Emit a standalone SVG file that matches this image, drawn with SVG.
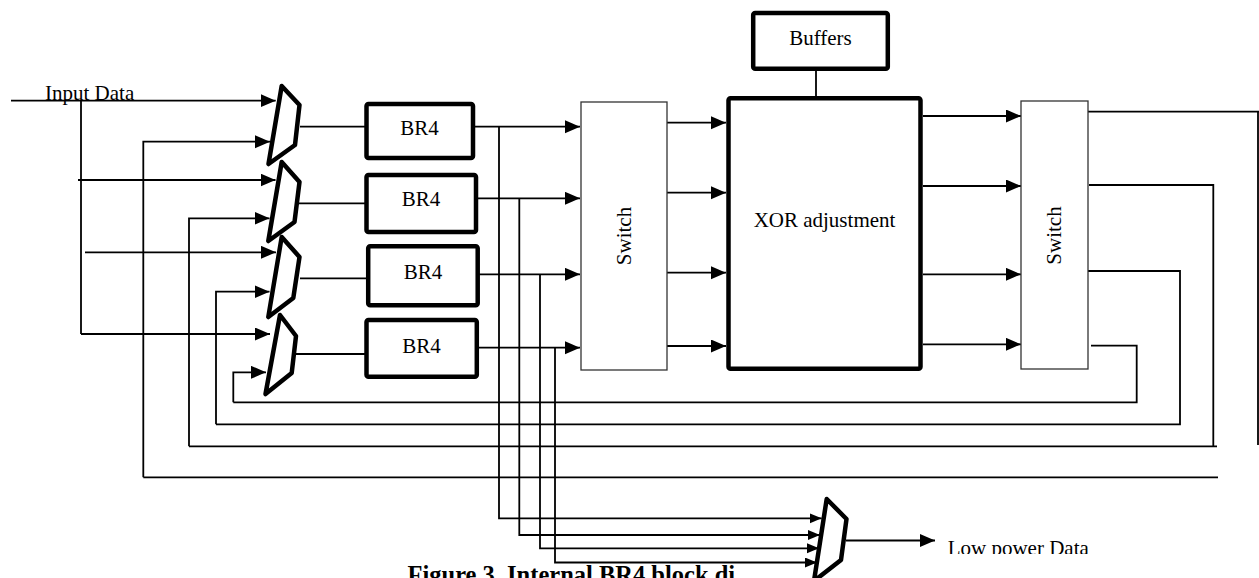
<svg xmlns="http://www.w3.org/2000/svg" width="1259" height="578" viewBox="0 0 1259 578">
<style>
.t{font-family:"Liberation Serif","Times New Roman",serif;font-size:21px;fill:#000}
.cap{font-family:"Liberation Serif","Times New Roman",serif;font-size:24.5px;font-weight:bold;fill:#000}
.blk{fill:#fff;stroke:#000;stroke-width:4.5;stroke-linejoin:round}
.sw{fill:#fff;stroke:#333;stroke-width:1.3}
.mux{fill:#fff;stroke:#000;stroke-width:4.5;stroke-linejoin:round}
.c{fill:none;stroke:#000;stroke-width:1.8}
.a{marker-end:url(#ah)}
.s{marker-end:url(#as)}
</style>
<defs>
<marker id="ah" markerUnits="userSpaceOnUse" markerWidth="16" markerHeight="14" refX="15" refY="6.5" orient="auto"><path d="M0,0 L15,6.5 L0,13 z" fill="#000"/></marker>
<marker id="as" markerUnits="userSpaceOnUse" markerWidth="14" markerHeight="12" refX="12" refY="5" orient="auto"><path d="M0,0 L12,5 L0,10 z" fill="#000"/></marker>
<clipPath id="lpclip"><rect x="900" y="520" width="359" height="34"/></clipPath>
</defs>
<rect width="1259" height="578" fill="#fff"/>

<g id="connectors">
<path class="c a" d="M11,100.7 H275.7"/>
<path class="c" d="M81,100.7 V334"/>
<path class="c a" d="M81,334 H270"/>
<path class="c a" d="M78,180 H275.5"/>
<path class="c a" d="M85,252.3 H276"/>
<path class="c a" d="M143.3,477.3 V141.7 H270"/>
<path class="c a" d="M189,446.3 V218.3 H269.5"/>
<path class="c a" d="M216,424.3 V291.7 H269.5"/>
<path class="c a" d="M233.3,402.3 V372.3 H266"/>
<path class="c" d="M233.3,402.3 H1136.7 V345.7 H1091"/>
<path class="c" d="M216,424.3 H1180 V271 H1088"/>
<path class="c" d="M189,446.3 H1217"/>
<path class="c" d="M1213.3,446.3 V185 H1089"/>
<path class="c" d="M143.3,477.3 H1218"/>
<path class="c" d="M1088,111.7 H1259"/>
<path class="c" d="M1258,111.7 V445"/>
<path class="c" d="M300,126.7 H366"/>
<path class="c" d="M299,203.3 H366"/>
<path class="c" d="M300,278.3 H368"/>
<path class="c" d="M296,354 H366"/>
<path class="c a" d="M473,126.7 H580"/>
<path class="c a" d="M476,198.3 H580"/>
<path class="c a" d="M478,274.3 H580"/>
<path class="c a" d="M477,347.7 H580"/>
<path class="c s" d="M499,126.7 V518.3 H821.7"/>
<path class="c s" d="M519.3,198.3 V535 H820"/>
<path class="c s" d="M540,274.3 V548.3 H819"/>
<path class="c s" d="M555,347.7 V562.5 H817"/>
<path class="c a" d="M667,122.7 H726"/>
<path class="c a" d="M667,192.7 H726"/>
<path class="c a" d="M667,272.7 H726"/>
<path class="c a" d="M667,346 H726"/>
<path class="c" d="M816,71 V96"/>
<path class="c a" d="M923,116 H1021"/>
<path class="c a" d="M923,186 H1021"/>
<path class="c a" d="M923,274.3 H1021"/>
<path class="c a" d="M923,344.3 H1021"/>
<path class="c a" d="M846,540.5 H935"/>
</g>

<g id="mux1"><polygon class="mux" points="281.7,86 299.5,105 295,145 268.5,164"/></g>
<g id="mux2"><polygon class="mux" points="281.7,162 299.5,182 294.5,222 268.3,241"/></g>
<g id="mux3"><polygon class="mux" points="281.7,237 299.5,257 293.3,298 268.3,317"/></g>
<g id="mux4"><polygon class="mux" points="280,315 296,336 291.7,373 265.5,394"/></g>
<g id="mux-out"><polygon class="mux" points="826.7,499 846.5,519 841,560 814,581"/></g>

<g id="br4-1"><rect class="blk" x="366.5" y="104" width="106.5" height="54" rx="2"/><text class="t" x="419.5" y="135" text-anchor="middle">BR4</text></g>
<g id="br4-2"><rect class="blk" x="366.5" y="175" width="109.5" height="57" rx="2"/><text class="t" x="421" y="206" text-anchor="middle">BR4</text></g>
<g id="br4-3"><rect class="blk" x="368.2" y="246.2" width="109.5" height="59" rx="2"/><text class="t" x="423" y="279" text-anchor="middle">BR4</text></g>
<g id="br4-4"><rect class="blk" x="366.5" y="320" width="110.3" height="56.8" rx="2"/><text class="t" x="421.5" y="352.5" text-anchor="middle">BR4</text></g>

<g id="switch1"><rect class="sw" x="581" y="102" width="86" height="268"/><text class="t" transform="translate(631,236) rotate(-90)" text-anchor="middle">Switch</text></g>
<g id="xor"><rect class="blk" x="728.5" y="98.2" width="192" height="270.5" rx="2"/><text class="t" x="824.5" y="226.7" text-anchor="middle">XOR adjustment</text></g>
<g id="buffers"><rect class="blk" x="753.2" y="12.9" width="134.6" height="55.9" rx="2"/><text class="t" x="820.5" y="45" text-anchor="middle">Buffers</text></g>
<g id="switch2"><rect class="sw" x="1021" y="101" width="67" height="268"/><text class="t" transform="translate(1061,235.5) rotate(-90)" text-anchor="middle">Switch</text></g>

<g id="labels">
<text class="t" x="45" y="100">Input Data</text>
<text class="t" x="947.7" y="555" clip-path="url(#lpclip)">Low power Data</text>
<text class="cap" x="407.5" y="583">Figure 3. Internal BR4 block di</text>
</g>
</svg>
